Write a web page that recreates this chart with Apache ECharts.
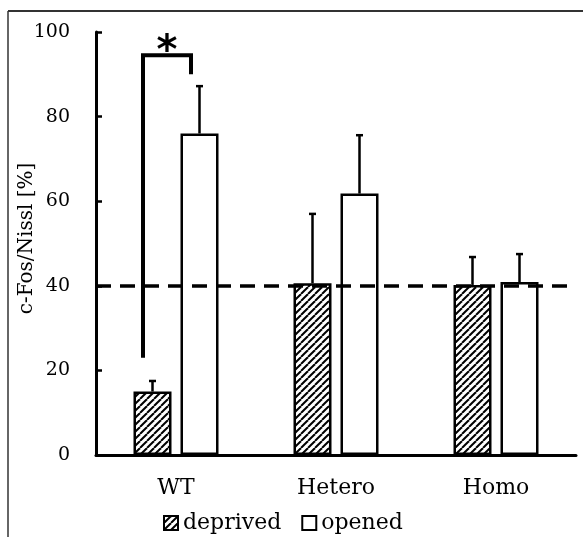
<!DOCTYPE html>
<html>
<head>
<meta charset="utf-8">
<script src="https://cdn.jsdelivr.net/npm/echarts@6/dist/echarts.min.js"></script>
<style>html,body{margin:0;padding:0;background:#fff;}#c{width:583px;height:537px;}</style>
</head>
<body>
<div id="c"></div>
<script>
const categories = ['WT', 'Hetero', 'Homo'];
const deprivedMean = [15, 40.6, 40.2];
const deprivedUpper = [17.5, 57, 46.8];
const openedMean = [76, 61.8, 40.9];
const openedUpper = [87.2, 75.6, 47.5];
const yMin = 0, yMax = 100, yInterval = 20;
const referenceLevel = 40;
const bracketValues = [23, 94.5, 90]; // left foot, top, right foot
const starValue = 95.2;

const FONT = 'DejaVu Serif';

// hatch pattern
const tile = document.createElement('canvas');
tile.width = 7; tile.height = 7;
const g = tile.getContext('2d');
g.fillStyle = '#fff'; g.fillRect(0, 0, 7, 7);
g.strokeStyle = '#000'; g.lineWidth = 2;
[[-7, 7, 0, 0], [0, 7, 7, 0], [7, 7, 14, 0]].forEach(function (l) {
  g.beginPath(); g.moveTo(l[0], l[1]); g.lineTo(l[2], l[3]); g.stroke();
});
const hatch = { image: tile, repeat: 'repeat' };

const BAR_W = 38, BAR_GAP = 9;
const half = (BAR_W + BAR_GAP) / 2;

function errRender(offset) {
  return function (params, api) {
    const x = api.coord([api.value(0), 0])[0] + offset;
    const y1 = api.coord([0, api.value(1)])[1];
    const y2 = api.coord([0, api.value(2)])[1];
    const st = { stroke: '#000', lineWidth: 2.5 };
    return {
      type: 'group',
      children: [
        { type: 'line', shape: { x1: x, y1: y1, x2: x, y2: y2 }, style: st },
        { type: 'line', shape: { x1: x - 3.5, y1: y2, x2: x + 3.5, y2: y2 }, style: st }
      ]
    };
  };
}

const chart = echarts.init(document.getElementById('c'));
chart.setOption({
  animation: false,
  backgroundColor: '#fff',
  textStyle: { fontFamily: FONT, color: '#000' },
  grid: { left: 96, right: 7, top: 32, bottom: 82, containLabel: false, outerBoundsMode: 'none' },
  xAxis: {
    type: 'category',
    data: categories,
    axisLine: { lineStyle: { color: '#000', width: 3 } },
    axisTick: { show: false },
    axisLabel: { fontFamily: FONT, fontSize: 22, color: '#000', margin: 22 }
  },
  yAxis: {
    type: 'value',
    min: yMin, max: yMax, interval: yInterval,
    name: 'c-Fos/Nissl [%]',
    nameLocation: 'middle',
    nameGap: 59,
    nameMoveOverlap: false,
    nameTextStyle: { fontFamily: FONT, fontSize: 20, color: '#000', padding: [0, 0, 0, 10] },
    axisLine: { show: true, lineStyle: { color: '#000', width: 3 } },
    axisTick: { show: true, inside: true, length: 6, lineStyle: { color: '#000', width: 2.5 } },
    axisLabel: { fontFamily: FONT, fontSize: 19, color: '#000', margin: 26 },
    splitLine: { show: false }
  },
  legend: {
    data: ['deprived', 'opened'],
    icon: 'rect',
    left: 158, top: 507,
    itemWidth: 14, itemHeight: 14, itemGap: 20,
    textStyle: { fontFamily: FONT, fontSize: 22, color: '#000' }
  },
  series: [
    {
      name: 'deprived', type: 'bar', data: deprivedMean,
      barWidth: BAR_W, barGap: (BAR_GAP / BAR_W * 100) + '%',
      itemStyle: { color: hatch, borderColor: '#000', borderWidth: 2.5 },
      markLine: {
        symbol: 'none', silent: true,
        label: { show: false },
        lineStyle: { color: '#000', width: 3.5, type: [15, 9] },
        data: [{ yAxis: referenceLevel }]
      },
      z: 2
    },
    {
      name: 'opened', type: 'bar', data: openedMean,
      barWidth: BAR_W,
      itemStyle: { color: '#fff', borderColor: '#000', borderWidth: 2.5 },
      z: 2
    },
    {
      type: 'custom', z: 5,
      data: categories.map(function (c, i) { return [i, deprivedMean[i], deprivedUpper[i]]; }),
      renderItem: errRender(-half)
    },
    {
      type: 'custom', z: 5,
      data: categories.map(function (c, i) { return [i, openedMean[i], openedUpper[i]]; }),
      renderItem: errRender(half)
    },
    {
      type: 'custom', z: 6,
      data: [[0].concat(bracketValues).concat([starValue])],
      renderItem: function (params, api) {
        const x0 = api.coord([0, 0])[0];
        const xl = x0 - 33, xr = x0 + 15;
        const yLow = api.coord([0, api.value(1)])[1];
        const yTop = api.coord([0, api.value(2)])[1];
        const yR = api.coord([0, api.value(3)])[1];
        const yS = api.coord([0, api.value(4)])[1];
        return {
          type: 'group',
          children: [
            { type: 'polyline', shape: { points: [[xl, yLow], [xl, yTop], [xr, yTop], [xr, yR]] }, style: { stroke: '#000', lineWidth: 4, fill: null, lineJoin: 'miter' } },
            { type: 'text', x: (xl + xr) / 2, y: yS, style: { text: '*', fontFamily: 'DejaVu Sans', fontWeight: 'bold', fontSize: 40, fill: '#000', align: 'center', verticalAlign: 'middle' } }
          ]
        };
      }
    }
  ],
  graphic: [
    { type: 'line', shape: { x1: 8, y1: 11, x2: 583, y2: 11 }, style: { stroke: '#333', lineWidth: 2 } },
    { type: 'line', shape: { x1: 8, y1: 11, x2: 8, y2: 537 }, style: { stroke: '#333', lineWidth: 1.5 } }
  ]
});
</script>
</body>
</html>
